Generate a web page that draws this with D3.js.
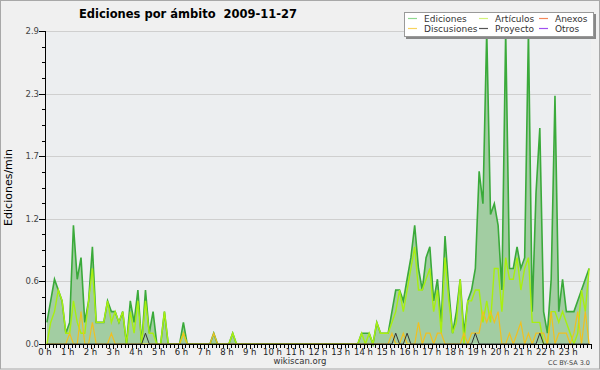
<!DOCTYPE html>
<html>
<head>
<meta charset="utf-8">
<script src="https://cdn.jsdelivr.net/npm/d3@7"></script>
<style>
  body { margin: 0; background: #fff; }
  svg { display: block; font-family: "DejaVu Sans", sans-serif; }
</style>
</head>
<body>
<div id="chart"></div>
<script>
// ===== datos: ediciones por minuto, tramos de 10 minutos (6 por hora) =====
const chartTitle = 'Ediciones por ámbito  2009-11-27';
const yAxisTitle = 'Ediciones/min';

const hourLabels = ['0 h', '1 h', '2 h', '3 h', '4 h', '5 h', '6 h', '7 h', '8 h', '9 h', '10 h', '11 h',
  '12 h', '13 h', '14 h', '15 h', '16 h', '17 h', '18 h', '19 h', '20 h', '21 h', '22 h', '23 h'];
const yTicks = [0, 0.58, 1.16, 1.74, 2.32, 2.9];
const yTickLabels = ['0.0', '0.6', '1.2', '1.7', '2.3', '2.9'];

// una fila por hora
const ediciones = [
  0.2, 0.4, 0.6, 0.5, 0.4, 0.1,
  0.2, 1.1, 0.6, 0.8, 0.2, 0.4,
  0.9, 0.2, 0.2, 0.2, 0.4, 0.3,
  0.3, 0.2, 0.3, 0.0, 0.4, 0.2,
  0.5, 0.0, 0.5, 0.1, 0.3, 0.0,
  0.0, 0.3, 0.0, 0.0, 0.0, 0.0,
  0.2, 0.0, 0.0, 0.0, 0.0, 0.0,
  0.0, 0.0, 0.1, 0.0, 0.0, 0.0,
  0.0, 0.1, 0.0, 0.0, 0.0, 0.0,
  0.0, 0.0, 0.0, 0.0, 0.0, 0.0,
  0.0, 0.0, 0.0, 0.0, 0.0, 0.0,
  0.0, 0.0, 0.0, 0.0, 0.0, 0.0,
  0.0, 0.0, 0.0, 0.0, 0.0, 0.0,
  0.0, 0.0, 0.0, 0.0, 0.0, 0.1,
  0.1, 0.1, 0.0, 0.2, 0.1, 0.1,
  0.1, 0.3, 0.5, 0.5, 0.4, 0.6,
  0.8, 1.1, 0.7, 0.5, 0.8, 0.9,
  0.4, 0.6, 0.2, 1.0, 0.5, 0.1,
  0.3, 0.6, 0.1, 0.4, 0.5, 0.7,
  1.6, 1.3, 2.9, 1.2, 1.3, 1.1,
  0.5, 2.9, 0.7, 0.7, 0.9, 0.7,
  0.8, 2.9, 0.3, 1.4, 2.0, 0.3,
  0.1, 0.6, 2.3, 0.3, 0.6, 0.3,
  0.3, 0.3, 0.4, 0.5, 0.6, 0.7
];
const articulos = [
  0.0, 0.2, 0.3, 0.5, 0.4, 0.1,
  0.1, 0.4, 0.2, 0.1, 0.1, 0.4,
  0.7, 0.2, 0.2, 0.2, 0.4, 0.2,
  0.3, 0.2, 0.3, 0.0, 0.3, 0.1,
  0.4, 0.0, 0.4, 0.1, 0.1, 0.0,
  0.0, 0.3, 0.0, 0.0, 0.0, 0.0,
  0.1, 0.0, 0.0, 0.0, 0.0, 0.0,
  0.0, 0.0, 0.0, 0.0, 0.0, 0.0,
  0.0, 0.1, 0.0, 0.0, 0.0, 0.0,
  0.0, 0.0, 0.0, 0.0, 0.0, 0.0,
  0.0, 0.0, 0.0, 0.0, 0.0, 0.0,
  0.0, 0.0, 0.0, 0.0, 0.0, 0.0,
  0.0, 0.0, 0.0, 0.0, 0.0, 0.0,
  0.0, 0.0, 0.0, 0.0, 0.0, 0.1,
  0.0, 0.1, 0.0, 0.2, 0.1, 0.1,
  0.1, 0.2, 0.3, 0.5, 0.3, 0.5,
  0.7, 0.9, 0.5, 0.5, 0.6, 0.7,
  0.3, 0.5, 0.1, 0.8, 0.4, 0.1,
  0.2, 0.6, 0.0, 0.4, 0.4, 0.5,
  0.5, 0.2, 0.4, 0.2, 0.7, 0.7,
  0.3, 0.8, 0.6, 0.6, 0.8, 0.5,
  0.7, 0.8, 0.2, 0.2, 0.2, 0.0,
  0.0, 0.3, 0.3, 0.2, 0.3, 0.2,
  0.1, 0.0, 0.1, 0.5, 0.3, 0.7
];
const discusiones = [
  0.0, 0.0, 0.0, 0.0, 0.0, 0.0,
  0.1, 0.0, 0.0, 0.3, 0.0, 0.0,
  0.2, 0.0, 0.0, 0.0, 0.0, 0.1,
  0.0, 0.0, 0.0, 0.0, 0.0, 0.0,
  0.0, 0.0, 0.0, 0.0, 0.0, 0.0,
  0.0, 0.0, 0.0, 0.0, 0.0, 0.0,
  0.1, 0.0, 0.0, 0.0, 0.0, 0.0,
  0.0, 0.0, 0.1, 0.0, 0.0, 0.0,
  0.0, 0.0, 0.0, 0.0, 0.0, 0.0,
  0.0, 0.0, 0.0, 0.0, 0.0, 0.0,
  0.0, 0.0, 0.0, 0.0, 0.0, 0.0,
  0.0, 0.0, 0.0, 0.0, 0.0, 0.0,
  0.0, 0.0, 0.0, 0.0, 0.0, 0.0,
  0.0, 0.0, 0.0, 0.0, 0.0, 0.0,
  0.0, 0.0, 0.0, 0.0, 0.0, 0.0,
  0.0, 0.1, 0.0, 0.0, 0.1, 0.0,
  0.0, 0.0, 0.2, 0.0, 0.1, 0.1,
  0.0, 0.1, 0.1, 0.0, 0.0, 0.0,
  0.0, 0.0, 0.1, 0.0, 0.1, 0.1,
  0.1, 0.3, 0.2, 0.3, 0.2, 0.3,
  0.0, 0.0, 0.1, 0.0, 0.1, 0.2,
  0.0, 0.1, 0.0, 0.1, 0.1, 0.1,
  0.0, 0.3, 0.0, 0.1, 0.1, 0.1,
  0.0, 0.1, 0.3, 0.0, 0.3, 0.0
];
const proyecto = [
  0, 0, 0, 0, 0, 0,
  0, 0, 0, 0, 0, 0,
  0, 0, 0, 0, 0, 0,
  0, 0, 0, 0, 0, 0,
  0, 0, 0.1, 0, 0, 0,
  0, 0, 0, 0, 0, 0,
  0, 0, 0, 0, 0, 0,
  0, 0, 0, 0, 0, 0,
  0, 0, 0, 0, 0, 0,
  0, 0, 0, 0, 0, 0,
  0, 0, 0, 0, 0, 0,
  0, 0, 0, 0, 0, 0,
  0, 0, 0, 0, 0, 0,
  0, 0, 0, 0, 0, 0,
  0, 0, 0, 0, 0, 0,
  0, 0, 0.1, 0, 0, 0.1,
  0, 0, 0, 0, 0, 0,
  0, 0, 0, 0, 0, 0,
  0, 0, 0, 0, 0, 0.1,
  0, 0, 0, 0, 0, 0,
  0, 0, 0, 0, 0, 0,
  0, 0, 0, 0, 0.1, 0,
  0, 0, 0, 0, 0, 0,
  0, 0, 0, 0, 0, 0
];

const legendNames = ['Ediciones', 'Artículos', 'Anexos', 'Discusiones', 'Proyecto', 'Otros'];
const legendColors = ['#8fd88f', '#d2f27a', '#f4885a', '#f7d35e', '#555555', '#a050f0'];

// ===== dimensiones =====
const W = 600, H = 370;
const plot = { left: 45, right: 591, top: 31, bottom: 344 };

const svg = d3.select('#chart').append('svg')
  .attr('width', W)
  .attr('height', H);

// fondo general y marco
svg.append('rect')
  .attr('x', 0).attr('y', 0).attr('width', W).attr('height', H)
  .attr('fill', '#f0f0f0');
svg.append('rect')
  .attr('x', 0.5).attr('y', 0.5).attr('width', W - 1).attr('height', H - 1.5)
  .attr('fill', 'none').attr('stroke', '#a8a8a8');

// zona del gráfico
svg.append('rect')
  .attr('x', plot.left).attr('y', plot.top)
  .attr('width', plot.right - plot.left).attr('height', plot.bottom - plot.top)
  .attr('fill', '#eceef0');

// escalas: x en tramos de 10 min (144 por día), y en ediciones/min
const x = d3.scaleLinear().domain([0, 144]).range([plot.left, plot.right]);
const y = d3.scaleLinear().domain([0, 2.9]).range([plot.bottom, plot.top]);
const slotX = (d, i) => x(i + 0.5); // cada punto en el centro de su tramo

// líneas de cuadrícula horizontales
svg.append('g')
  .selectAll('line')
  .data(yTicks.slice(1))
  .enter()
  .append('line')
  .attr('x1', plot.left).attr('x2', plot.right)
  .attr('y1', d => Math.round(y(d)) + 0.5).attr('y2', d => Math.round(y(d)) + 0.5)
  .attr('stroke', '#cfcfcf')
  .attr('stroke-width', 1);

// área y línea de Ediciones
const area = d3.area()
  .x(slotX)
  .y0(y(0))
  .y1(d => y(d));
const line = d3.line()
  .x(slotX)
  .y(d => y(d));

svg.append('path')
  .datum(ediciones)
  .attr('d', area)
  .attr('fill', '#a2cda2');

svg.append('path')
  .datum(ediciones)
  .attr('d', line)
  .attr('fill', 'none')
  .attr('stroke', '#3aaa3a')
  .attr('stroke-width', 1.6)
  .attr('stroke-linejoin', 'miter');

// resto de series
const series = [
  { values: articulos, color: '#a8ef10', width: 1.4 },
  { values: discusiones, color: '#f0c020', width: 1.2 },
  { values: proyecto, color: '#333333', width: 1 }
];
series.forEach(s => {
  svg.append('path')
    .datum(s.values)
    .attr('d', line)
    .attr('fill', 'none')
    .attr('stroke', s.color)
    .attr('stroke-width', s.width);
});

// eje Y
const yAxis = svg.append('g').attr('class', 'y-axis');
yAxis.append('line')
  .attr('x1', plot.left + 0.5).attr('x2', plot.left + 0.5)
  .attr('y1', plot.top).attr('y2', plot.bottom + 1)
  .attr('stroke', '#000');
// marcas menores (4 intervalos entre mayores)
const minorY = [];
yTicks.slice(0, -1).forEach((t, k) => {
  const step = (yTicks[k + 1] - t) / 4;
  for (let j = 1; j < 4; j++) minorY.push(t + j * step);
});
yAxis.selectAll('line.minor')
  .data(minorY)
  .enter()
  .append('line')
  .attr('class', 'minor')
  .attr('x1', plot.left - 3).attr('x2', plot.left)
  .attr('y1', d => Math.round(y(d)) + 0.5).attr('y2', d => Math.round(y(d)) + 0.5)
  .attr('stroke', '#000');
yAxis.selectAll('line.major')
  .data(yTicks)
  .enter()
  .append('line')
  .attr('class', 'major')
  .attr('x1', plot.left - 6).attr('x2', plot.left)
  .attr('y1', d => Math.round(y(d)) + 0.5).attr('y2', d => Math.round(y(d)) + 0.5)
  .attr('stroke', '#000');
yAxis.selectAll('text')
  .data(yTicks)
  .enter()
  .append('text')
  .attr('x', plot.left - 6)
  .attr('y', d => y(d) + 3)
  .attr('text-anchor', 'end')
  .attr('font-size', '8.5px')
  .attr('fill', '#444')
  .text((d, i) => yTickLabels[i]);

// título del eje Y
svg.append('text')
  .attr('transform', `translate(12, ${(plot.top + plot.bottom) / 2}) rotate(-90)`)
  .attr('text-anchor', 'middle')
  .attr('font-size', '11px')
  .attr('fill', '#000')
  .text(yAxisTitle);

// eje X
const xAxis = svg.append('g').attr('class', 'x-axis');
xAxis.append('line')
  .attr('x1', plot.left).attr('x2', plot.right)
  .attr('y1', plot.bottom + 0.5).attr('y2', plot.bottom + 0.5)
  .attr('stroke', '#000');
xAxis.selectAll('line.tick')
  .data(d3.range(0, 145))
  .enter()
  .append('line')
  .attr('class', 'tick')
  .attr('x1', d => Math.round(x(d)) + 0.5).attr('x2', d => Math.round(x(d)) + 0.5)
  .attr('y1', plot.bottom).attr('y2', d => plot.bottom + (d % 6 === 0 ? 5 : 4))
  .attr('stroke', '#000');
xAxis.selectAll('text')
  .data(hourLabels)
  .enter()
  .append('text')
  .attr('x', (d, i) => x(i * 6))
  .attr('y', plot.bottom + 11)
  .attr('text-anchor', 'middle')
  .attr('font-size', '8.5px')
  .attr('fill', '#222')
  .text(d => d);

// título
svg.append('text')
  .attr('x', 188)
  .attr('y', 18)
  .attr('text-anchor', 'middle')
  .attr('font-size', '11.5px')
  .attr('font-weight', 'bold')
  .style('white-space', 'pre')
  .text(chartTitle);

// leyenda
const legend = svg.append('g').attr('transform', 'translate(404, 12)');
legend.append('rect')
  .attr('x', 2).attr('y', 2).attr('width', 190).attr('height', 25)
  .attr('fill', '#888');
legend.append('rect')
  .attr('x', 0.5).attr('y', 0.5).attr('width', 189).attr('height', 24)
  .attr('fill', '#fff').attr('stroke', '#999');
const colX = [4, 75, 135];
const rowY = [10, 20];
legendNames.forEach((name, i) => {
  const cx = colX[i % 3], cy = rowY[Math.floor(i / 3)];
  legend.append('line')
    .attr('x1', cx).attr('x2', cx + 9)
    .attr('y1', cy - 3.5).attr('y2', cy - 3.5)
    .attr('stroke', legendColors[i])
    .attr('stroke-width', 1.2);
  legend.append('text')
    .attr('x', cx + 16)
    .attr('y', cy)
    .attr('font-size', '9px')
    .attr('fill', '#333')
    .text(name);
});

// pie
svg.append('text')
  .attr('x', 300).attr('y', 364)
  .attr('text-anchor', 'middle')
  .attr('font-size', '8.5px')
  .attr('fill', '#333')
  .text('wikiscan.org');
svg.append('text')
  .attr('x', 590).attr('y', 365)
  .attr('text-anchor', 'end')
  .attr('font-size', '6.5px')
  .attr('fill', '#444')
  .text('CC BY-SA 3.0');
</script>
</body>
</html>
